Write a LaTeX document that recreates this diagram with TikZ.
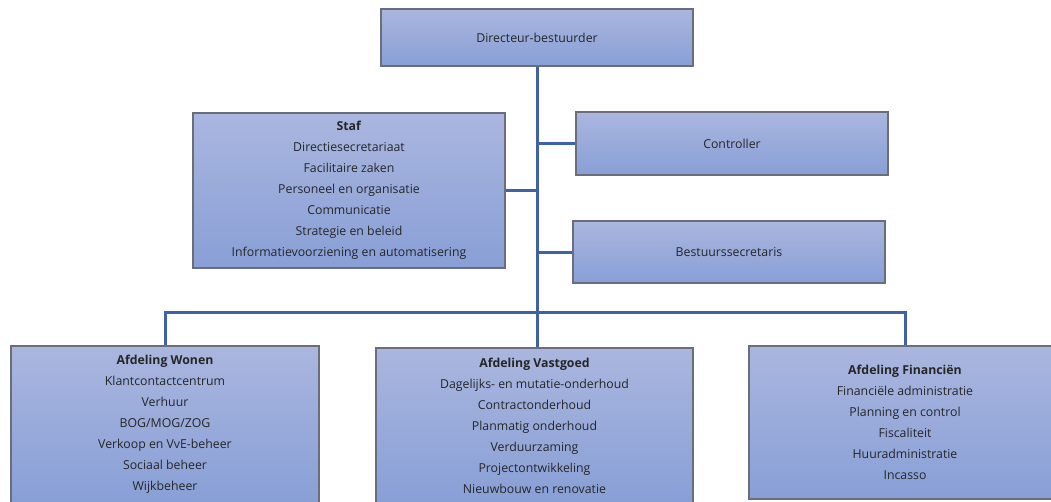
\documentclass[tikz,border=0pt]{standalone}
\usepackage{fontspec}
\setmainfont{Open Sans}
\usetikzlibrary{backgrounds}
\definecolor{boxtop}{RGB}{170,182,223}
\definecolor{boxbot}{RGB}{136,159,214}
\definecolor{boxline}{RGB}{105,110,122}
\definecolor{connc}{RGB}{63,98,166}
\begin{document}
\begin{tikzpicture}[x=1pt,y=-1pt,
  box/.style={draw=boxline, line width=1.2pt, top color=boxtop, bottom color=boxbot,
    align=center, inner sep=0pt, text=black!85,
    font=\fontsize{12.3}{21}\selectfont},
  conn/.style={draw=connc, line width=3pt}]
\useasboundingbox (0,0) rectangle (1051,501);
\clip (0,0) rectangle (1051,501);
\node[box, minimum width=312pt, minimum height=57pt] (dir) at (537,37.5) {Directeur-bestuurder};
\node[box, minimum width=312pt, minimum height=155pt] (staf) at (349,190.5)
  {\textbf{Staf}\\Directiesecretariaat\\Facilitaire zaken\\Personeel en organisatie\\Communicatie\\Strategie en beleid\\Informatievoorziening en automatisering};
\node[box, minimum width=312pt, minimum height=63pt] (ctrl) at (732,143.5) {Controller};
\node[box, minimum width=312pt, minimum height=62pt] (bsec) at (729,252) {Bestuurssecretaris};
\node[box, minimum width=308pt, minimum height=157pt] (won) at (165,424.5)
  {\textbf{Afdeling Wonen}\\Klantcontactcentrum\\Verhuur\\BOG/MOG/ZOG\\Verkoop en VvE-beheer\\Sociaal beheer\\Wijkbeheer};
\node[box, minimum width=317pt, minimum height=155pt] (vast) at (534.5,425.5)
  {\textbf{Afdeling Vastgoed}\\Dagelijks- en mutatie-onderhoud\\Contractonderhoud\\Planmatig onderhoud\\Verduurzaming\\Projectontwikkeling\\Nieuwbouw en renovatie};
\node[box, minimum width=312pt, minimum height=153pt] (fin) at (905,422.5)
  {\textbf{Afdeling Financiën}\\Financiële administratie\\Planning en control\\Fiscaliteit\\Huuradministratie\\Incasso};
\coordinate (bus) at (537,312);
\begin{scope}[on background layer]
\draw[conn] (dir.south) -- (dir.south |- vast.north);
\draw[conn] (staf.east) -- (staf.east -| dir.south);
\draw[conn] (ctrl.west) -- (ctrl.west -| dir.south);
\draw[conn] (bsec.west) -- (bsec.west -| dir.south);
\draw[conn] (won.north) -- (won.north |- bus) -- (fin.north |- bus) -- (fin.north);
\end{scope}
\end{tikzpicture}
\end{document}
